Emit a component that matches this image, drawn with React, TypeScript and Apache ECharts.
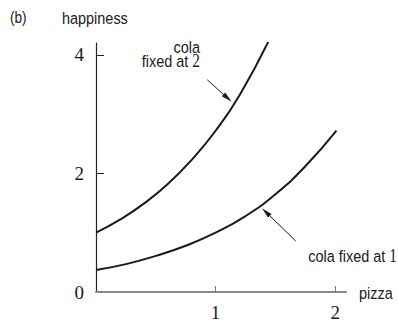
import React, { useEffect, useRef } from "react";
import * as echarts from "echarts";

// happiness as a function of pizza, with cola held fixed
const pizzaColaTwo = [0, 0.2, 0.4, 0.6, 0.8, 1.0, 1.2, 1.44];
const happinessColaTwo = [1.0, 1.22, 1.49, 1.82, 2.23, 2.72, 3.32, 4.22];

const pizzaColaOne = [0, 0.25, 0.5, 0.75, 1.0, 1.25, 1.5, 1.75, 2.01];
const happinessColaOne = [0.37, 0.47, 0.61, 0.78, 1.0, 1.28, 1.65, 2.12, 2.72];

const xTicks = [1, 2];
const yTicks = [2, 4];
const yTickLabels = [0, 2, 4];

// annotation arrows, [tail, tip] in data coordinates
const arrowColaTwo = [[0.93, 3.58], [1.1, 3.27]];
const arrowColaOne = [[1.67, 0.86], [1.42, 1.35]];

const SANS = "'Liberation Sans', Arial, sans-serif";
const SERIF = "'Liberation Serif', 'Times New Roman', serif";
const INK = "#1a1a1a";
const LABEL = `17px ${SANS}`;
// condensed look for the sans labels
const NARROW = 0.85;

export default function App() {
  const ref = useRef<HTMLDivElement>(null);

  useEffect(() => {
    if (!ref.current) return;
    const chart = echarts.init(ref.current, undefined, { renderer: "svg" });

    const pair = (xs: number[], ys: number[]) => xs.map((x, i) => [x, ys[i]]);
    const arrow = (pts: number[][]) => [
      { coord: pts[0], symbol: "none" },
      { coord: pts[1], symbol: "triangle", symbolSize: [5, 11] },
    ];

    chart.setOption({
      animation: false,
      backgroundColor: "#fff",
      grid: { left: 96, right: 52, top: 43, bottom: 29, containLabel: false },
      xAxis: {
        type: "value",
        min: 0,
        max: 2.09,
        interval: 1,
        axisLine: { show: true, lineStyle: { color: "#888", width: 2 } },
        axisTick: {
          show: true,
          inside: true,
          length: 6,
          customValues: xTicks,
          lineStyle: { color: "#777", width: 1 },
        },
        axisLabel: {
          customValues: xTicks,
          margin: 11,
          color: INK,
          fontFamily: SERIF,
          fontSize: 19,
        },
        splitLine: { show: false },
      },
      yAxis: {
        type: "value",
        min: 0,
        max: 4.2,
        interval: 2,
        axisLine: { show: true, lineStyle: { color: "#222", width: 1.2 } },
        axisTick: {
          show: true,
          inside: true,
          length: 8,
          customValues: yTicks,
          lineStyle: { color: "#222", width: 1 },
        },
        axisLabel: {
          customValues: yTickLabels,
          margin: 12,
          color: INK,
          fontFamily: SERIF,
          fontSize: 19,
        },
        splitLine: { show: false },
      },
      series: [
        {
          type: "line",
          data: pair(pizzaColaTwo, happinessColaTwo),
          smooth: true,
          showSymbol: false,
          lineStyle: { color: INK, width: 2 },
          markLine: {
            silent: true,
            label: { show: false },
            lineStyle: { color: INK, width: 1, type: "solid" },
            itemStyle: { color: INK },
            data: [arrow(arrowColaTwo)],
          },
        },
        {
          type: "line",
          data: pair(pizzaColaOne, happinessColaOne),
          smooth: true,
          showSymbol: false,
          lineStyle: { color: INK, width: 2 },
          markLine: {
            silent: true,
            label: { show: false },
            lineStyle: { color: INK, width: 1, type: "solid" },
            itemStyle: { color: INK },
            data: [arrow(arrowColaOne)],
          },
        },
      ],
      graphic: [
        {
          type: "text",
          x: 10,
          y: 10,
          scaleX: NARROW,
          style: { text: "(b)", font: `16px ${SANS}`, fill: INK },
        },
        {
          type: "text",
          x: 62,
          y: 10,
          scaleX: NARROW,
          style: { text: "happiness", font: LABEL, fill: INK },
        },
        {
          type: "text",
          x: 359,
          y: 285,
          scaleX: NARROW,
          style: { text: "pizza", font: LABEL, fill: INK },
        },
        {
          type: "text",
          x: 200,
          y: 40,
          scaleX: NARROW,
          style: {
            text: "{s|cola}\n{s|fixed at }{n|2}",
            align: "right",
            verticalAlign: "top",
            rich: {
              s: { font: LABEL, fill: INK, lineHeight: 14, align: "right" },
              n: { font: `18px ${SERIF}`, fill: INK, lineHeight: 14 },
            },
          },
        },
        {
          type: "text",
          x: 397,
          y: 247,
          scaleX: NARROW,
          style: {
            text: "{s|cola fixed at }{n|1}",
            align: "right",
            verticalAlign: "top",
            rich: {
              s: { font: LABEL, fill: INK },
              n: { font: `18px ${SERIF}`, fill: INK },
            },
          },
        },
      ],
    });

    return () => chart.dispose();
  }, []);

  return <div ref={ref} style={{ width: 398, height: 322, position: "absolute", left: 0, top: 0 }} />;
}
